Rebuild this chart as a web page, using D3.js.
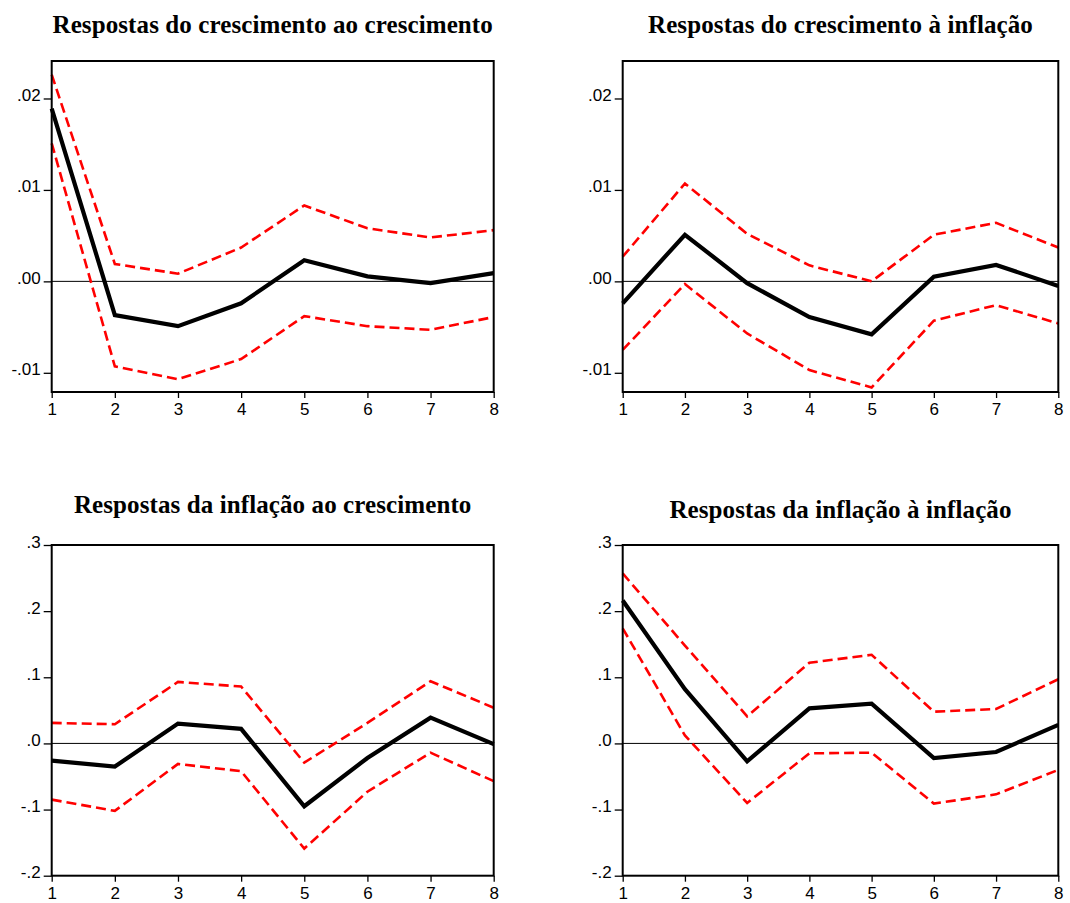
<!DOCTYPE html>
<html>
<head>
<meta charset="utf-8">
<script src="https://cdn.jsdelivr.net/npm/d3@7"></script>
<style>
  body { margin: 0; background: #fff; }
  svg { display: block; }
  .tick text { font-family: 'Liberation Sans', Arial, sans-serif; font-size: 17px; fill: #000; }
</style>
</head>
<body>
<svg id="chart" width="1070" height="903"></svg>
<script>
// Horizon (periods after the shock)
const periods = [1, 2, 3, 4, 5, 6, 7, 8];

const titles = [
  "Respostas do crescimento ao crescimento",
  "Respostas do crescimento à inflação",
  "Respostas da inflação ao crescimento",
  "Respostas da inflação à inflação"
];

// Impulse responses with ±2 S.E. bands
const growthToGrowth      = [0.0189, -0.0037, -0.0049, -0.0024, 0.0023, 0.00055, -0.0002, 0.0009];
const growthToGrowthUpper = [0.0226, 0.0019, 0.00084, 0.0037, 0.0083, 0.0058, 0.0048, 0.0056];
const growthToGrowthLower = [0.0151, -0.0093, -0.0107, -0.0085, -0.0038, -0.0049, -0.0053, -0.0039];

const growthToInfl      = [-0.0024, 0.0051, -0.0002, -0.0039, -0.0058, 0.0005, 0.0018, -0.0005];
const growthToInflUpper = [0.0027, 0.0107, 0.0052, 0.00175, 0.0000, 0.0051, 0.0064, 0.0037];
const growthToInflLower = [-0.0075, -0.0003, -0.0057, -0.0097, -0.0116, -0.0043, -0.0026, -0.0046];

const inflToGrowth      = [-0.026, -0.035, 0.030, 0.022, -0.095, -0.022, 0.039, -0.001];
const inflToGrowthUpper = [0.031, 0.029, 0.093, 0.086, -0.029, 0.031, 0.094, 0.054];
const inflToGrowthLower = [-0.085, -0.102, -0.031, -0.042, -0.159, -0.073, -0.014, -0.057];

const inflToInfl      = [0.216, 0.082, -0.027, 0.053, 0.060, -0.022, -0.013, 0.028];
const inflToInflUpper = [0.257, 0.148, 0.041, 0.122, 0.134, 0.048, 0.052, 0.097];
const inflToInflLower = [0.174, 0.012, -0.090, -0.015, -0.014, -0.091, -0.077, -0.040];

// Axis ticks and their labels
const growthTicks = [-0.01, 0, 0.01, 0.02];
const growthTickLabels = ["-.01", ".00", ".01", ".02"];
const inflTicks = [-0.2, -0.1, 0, 0.1, 0.2, 0.3];
const inflTickLabels = ["-.2", "-.1", ".0", ".1", ".2", ".3"];

const growthDomain = [-0.0121, 0.0241];
const inflDomain = [-0.2, 0.3];

// Panel layout
const panels = [
  { title: titles[0], mean: growthToGrowth, upper: growthToGrowthUpper, lower: growthToGrowthLower,
    domain: growthDomain, ticks: growthTicks, labels: growthTickLabels,
    box: { x0: 51.7, x1: 493.7, y0: 61, y1: 392 }, titleY: 33 },
  { title: titles[1], mean: growthToInfl, upper: growthToInflUpper, lower: growthToInflLower,
    domain: growthDomain, ticks: growthTicks, labels: growthTickLabels,
    box: { x0: 622.7, x1: 1058.3, y0: 61, y1: 392 }, titleY: 33 },
  { title: titles[2], mean: inflToGrowth, upper: inflToGrowthUpper, lower: inflToGrowthLower,
    domain: inflDomain, ticks: inflTicks, labels: inflTickLabels,
    box: { x0: 51.7, x1: 493.7, y0: 545, y1: 875.7 }, titleY: 513 },
  { title: titles[3], mean: inflToInfl, upper: inflToInflUpper, lower: inflToInflLower,
    domain: inflDomain, ticks: inflTicks, labels: inflTickLabels,
    box: { x0: 622.7, x1: 1058.3, y0: 545, y1: 875.7 }, titleY: 518 }
];

const svg = d3.select("#chart");
const titleFont = "'Liberation Serif', 'Times New Roman', serif";

panels.forEach(p => {
  const b = p.box;
  const x = d3.scaleLinear().domain([1, 8]).range([b.x0, b.x1]);
  const y = d3.scaleLinear().domain(p.domain).range([b.y1, b.y0]);
  const g = svg.append("g");

  // Title
  g.append("text")
    .attr("x", (b.x0 + b.x1) / 2)
    .attr("y", p.titleY)
    .attr("text-anchor", "middle")
    .style("font-family", titleFont)
    .style("font-weight", "bold")
    .style("font-size", "25px")
    .style("letter-spacing", "0.1px")
    .style("fill", "#000")
    .text(p.title);

  // Zero line
  g.append("line")
    .attr("x1", b.x0).attr("x2", b.x1)
    .attr("y1", y(0)).attr("y2", y(0))
    .attr("stroke", "#000").attr("stroke-width", 1);

  const line = d3.line().x((d, i) => x(periods[i])).y(d => y(d));

  // Confidence bands
  [p.upper, p.lower].forEach(band => {
    g.append("path")
      .datum(band)
      .attr("d", line)
      .attr("fill", "none")
      .attr("stroke", "#ff0000")
      .attr("stroke-width", 2.6)
      .attr("stroke-dasharray", "10,5");
  });

  // Point response
  g.append("path")
    .datum(p.mean)
    .attr("d", line)
    .attr("fill", "none")
    .attr("stroke", "#000")
    .attr("stroke-width", 4.2)
    .attr("stroke-linejoin", "miter");

  // Left axis
  const yAxis = d3.axisLeft(y)
    .tickValues(p.ticks)
    .tickFormat((d, i) => p.labels[i])
    .tickSize(8)
    .tickSizeOuter(0)
    .tickPadding(3);
  const ya = g.append("g").attr("transform", `translate(${b.x0},0)`).call(yAxis);
  ya.attr("font-size", 17).attr("font-family", "'Liberation Sans', Arial, sans-serif");
  ya.select(".domain").remove();
  ya.selectAll("line").attr("stroke", "#000").attr("stroke-width", 1.3);
  ya.selectAll("text").attr("dy", "0.12em").attr("font-size", 17);

  // Bottom axis
  const xAxis = d3.axisBottom(x)
    .tickValues(periods)
    .tickFormat(d3.format("d"))
    .tickSize(6)
    .tickSizeOuter(0)
    .tickPadding(5);
  const xa = g.append("g").attr("transform", `translate(0,${b.y1})`).call(xAxis);
  xa.attr("font-size", 17).attr("font-family", "'Liberation Sans', Arial, sans-serif");
  xa.select(".domain").remove();
  xa.selectAll("line").attr("stroke", "#000").attr("stroke-width", 1.3);
  xa.selectAll("text").attr("font-size", 17);

  // Frame
  g.append("rect")
    .attr("x", b.x0).attr("y", b.y0)
    .attr("width", b.x1 - b.x0).attr("height", b.y1 - b.y0)
    .attr("fill", "none")
    .attr("stroke", "#000")
    .attr("stroke-width", 2);
});
</script>
</body>
</html>
